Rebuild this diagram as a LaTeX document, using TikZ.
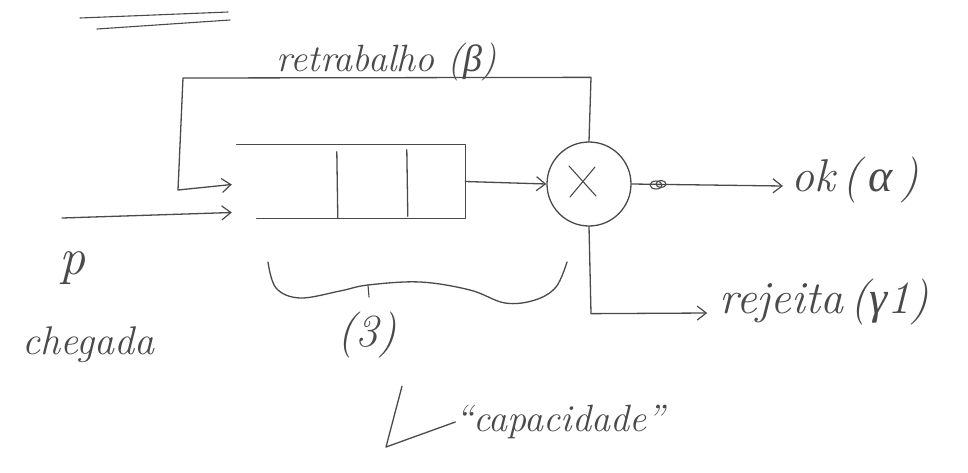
\documentclass[tikz,border=0pt]{standalone}
\usepackage{fontspec}
\newfontfamily\grk{Liberation Serif}
\usetikzlibrary{arrows.meta,calc}
\definecolor{pencil}{HTML}{4A4A4A}
\newcommand{\gk}[1]{{\grk\itshape #1}}
\tikzset{
  ink/.style={draw=pencil,line width=1.3pt,line cap=round,line join=round},
  tip/.style={-{Straight Barb[length=9pt,width=14pt,line width=1.2pt]}},
  hand/.style={text=pencil,font=\fontsize{38}{44}\selectfont\itshape,inner sep=0pt},
  handbig/.style={text=pencil,font=\fontsize{46}{52}\selectfont\itshape,inner sep=0pt},
}
\begin{document}
\begin{tikzpicture}[x=1pt,y=-1pt]
\useasboundingbox (0,0) rectangle (968,472);
\fill[white] (0,0) rectangle (968,472);

% double underline of the heading
\draw[ink,line width=1.1pt] (80,18) -- (228,12);
\draw[ink,line width=1.1pt] (97,29) -- (230,20);

% queue buffer (open on the left) with its two slot dividers
\node[minimum width=228pt,minimum height=73pt,inner sep=0pt] (q) at (351,181.5) {};
\draw[ink] (q.north west) -- (q.north east) -- (q.south east)
  -- ($(q.south west)+(20,0)$);
\draw[ink] ($(q.north west)+(100,7)$) -- ($(q.south west)+(101,0)$);
\draw[ink] ($(q.north west)+(170,5)$) -- ($(q.south west)+(171,-2)$);

% server
\node[circle,ink,minimum size=84pt,inner sep=0pt] (srv) at (589,184) {};
\draw[ink,line width=1.1pt] (569,166) -- (596,196);
\draw[ink,line width=1.1pt] (595,167) -- (570,197);

% labels
\node[hand] (ret) at (387,62) {retrabalho (\gk{β})};
\node[handbig] (ok) at (855,180) {ok\,(\,\gk{α}\,)};
\node[handbig] (rej) at (824,302) {rejeita\,(\gk{γ}1)};
\node[handbig,font=\fontsize{52}{58}\selectfont\itshape] (p) at (72,268) {p};
\node[hand,font=\fontsize{40}{46}\selectfont\itshape] (cheg) at (88,345) {chegada};
\node[handbig] (cap3) at (367,335) {(3)};
\node[hand] (capac) at (560,422) {“capacidade”};

% arrival
\coordinate (arr) at (62,218);
\draw[ink,tip] (arr) -- ($(q.west)+(-5,31)$);

% rework loop back to the queue entrance
\draw[ink,tip] (srv.north) -- ++(2,-64) -- (183,78) -- (178,190)
  -- ($(q.west)+(-5,3)$);

% queue to server
\draw[ink,tip] (q.east) -- (srv.west);

% server output to ok, with the small knot on the line
\draw[ink,tip] (srv.east) -- ($(ok.west)+(-8,6)$);
\draw[ink,line width=1.1pt] (656,185) ellipse (6pt and 4pt);
\draw[ink,line width=1.1pt] (661,184) ellipse (5pt and 3.5pt);

% server output to reject
\draw[ink,tip] (srv.south) -- ++(2,87) -- ($(rej.west)+(-12,11)$);

% brace under the queue
\draw[ink] plot[smooth,tension=0.6] coordinates {
  (268,262) (276,288) (300,298) (340,291) (368,285) (420,282)
  (470,290) (505,303) (535,300) (556,287) (567,262)};
\draw[ink,line width=1.1pt] (368,285) -- (369,297);

% pointer from (3) to the word
\draw[ink] (cap3.south) ++(35,28) -- (386,447) -- (capac.west);
\end{tikzpicture}
\end{document}
